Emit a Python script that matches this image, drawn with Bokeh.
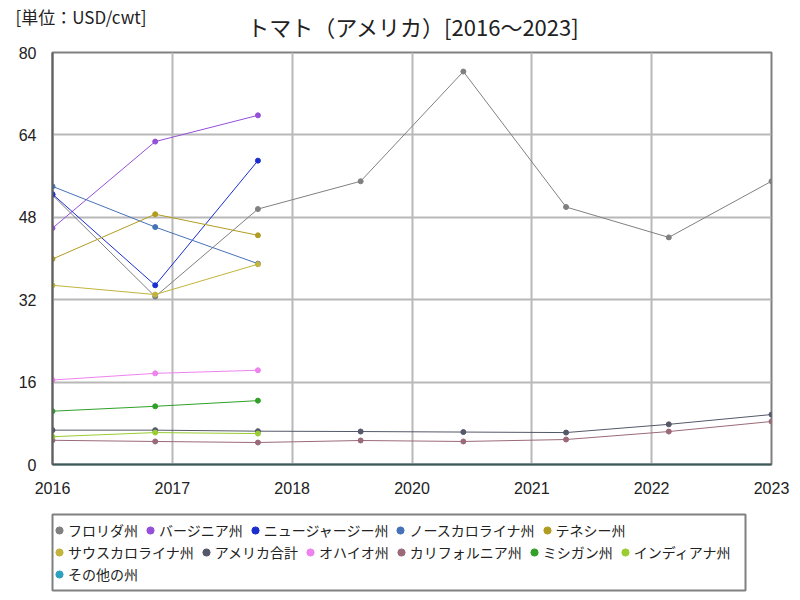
from bokeh.plotting import figure
from bokeh.layouts import column
from bokeh.models import (Range1d, FixedTicker, CustomJSTickFormatter, Legend, LegendItem,
                          Label, ColumnDataSource)
from bokeh.embed import file_html
from bokeh.resources import INLINE

years = [2016, 2017, 2018, 2019, 2020, 2021, 2022, 2023]

series_names = ["フロリダ州", "バージニア州", "ニュージャージー州", "ノースカロライナ州", "テネシー州",
                "サウスカロライナ州", "アメリカ合計", "オハイオ州", "カリフォルニア州", "ミシガン州",
                "インディアナ州", "その他の州"]

florida = [52.3, 32.6, 49.6, 55.0, 76.3, 50.0, 44.1, 55.0]
virginia = [45.9, 62.7, 67.8, None, None, None, None, None]
new_jersey = [52.5, 34.8, 59.0, None, None, None, None, None]
north_carolina = [54.0, 46.1, 39.0, None, None, None, None, None]
tennessee = [39.9, 48.6, 44.5, None, None, None, None, None]
south_carolina = [34.8, 33.0, 38.9, None, None, None, None, None]
us_total = [6.67, 6.67, 6.47, 6.4, 6.3, 6.2, 7.8, 9.7]
ohio = [16.4, 17.7, 18.3, None, None, None, None, None]
california = [4.7, 4.47, 4.27, 4.66, 4.47, 4.85, 6.4, 8.35]
michigan = [10.35, 11.3, 12.4, None, None, None, None, None]
indiana = [5.4, 6.2, 6.0, None, None, None, None, None]
others = [None, None, None, None, None, None, None, None]

all_values = [florida, virginia, new_jersey, north_carolina, tennessee, south_carolina,
              us_total, ohio, california, michigan, indiana, others]

colors = ["#808080", "#9450d8", "#1a2ed0", "#4672b8", "#b09c20", "#c2b43c",
          "#545868", "#ee82ee", "#9a6a78", "#30a028", "#9acd32", "#30a0c0"]

y_ticks = [0, 16, 32, 48, 64, 80]

title_text = "トマト（アメリカ）[2016～2023]"
unit_text = "[単位：USD/cwt]"

num_font = "Liberation Sans"
jp_font = "Noto Sans CJK JP"
W = 800

# ---- header (title + unit) ----
head = figure(width=W, height=42, output_backend="svg", toolbar_location=None,
              x_range=Range1d(0, W), y_range=Range1d(0, 42),
              x_axis_location=None, y_axis_location=None,
              min_border=0, min_border_left=0, min_border_right=0,
              min_border_top=0, min_border_bottom=0, frame_align=False)
head.grid.visible = False
head.outline_line_color = None
head.add_layout(Label(x=413, y=17, text=title_text, text_align="center",
                      text_baseline="middle", text_font=jp_font, text_font_size="22px",
                      text_color="#222222"))
head.add_layout(Label(x=15, y=26, text=unit_text, text_align="left",
                      text_baseline="middle", text_font=jp_font, text_font_size="17px",
                      text_color="#222222"))

# ---- main chart ----
p = figure(width=W, height=466, output_backend="svg", toolbar_location=None,
           x_range=Range1d(2016, 2023), y_range=Range1d(0, 80),
           min_border_left=52, min_border_right=29, min_border_top=10, min_border_bottom=44,
           frame_align=False)

p.outline_line_color = "#808080"
p.outline_line_width = 2

p.xaxis.ticker = FixedTicker(ticks=[2016 + 7 * k / 6 for k in range(7)])
p.xaxis.formatter = CustomJSTickFormatter(code="return Math.round(tick).toFixed(0);")
p.yaxis.ticker = FixedTicker(ticks=y_ticks)
for ax in (p.xaxis, p.yaxis):
    ax.major_tick_line_color = None
    ax.minor_tick_line_color = None
    ax.major_label_text_font = num_font
    ax.major_label_text_font_size = "16px"
    ax.major_label_text_color = "#222222"
p.xaxis.axis_line_color = "#3c5a5a"
p.xaxis.axis_line_width = 2
p.yaxis.axis_line_color = "#606060"
p.yaxis.axis_line_width = 2
p.xaxis.major_label_standoff = 11
p.yaxis.major_label_standoff = 10

p.xgrid.grid_line_color = "#b8b8b8"
p.ygrid.grid_line_color = "#b8b8b8"
p.xgrid.grid_line_width = 2
p.ygrid.grid_line_width = 2

for name, vals, col in zip(series_names, all_values, colors):
    xs = [y for y, v in zip(years, vals) if v is not None]
    ys = [v for v in vals if v is not None]
    src = ColumnDataSource(data=dict(x=xs, y=ys))
    if len(xs) > 1:
        p.line("x", "y", source=src, line_color=col, line_width=1)
    p.scatter("x", "y", source=src, size=5, fill_color=col, line_color=col)

# ---- legend box ----
lf = figure(width=W, height=92, output_backend="svg", toolbar_location=None,
            x_range=Range1d(0, 1), y_range=Range1d(0, 1),
            x_axis_location=None, y_axis_location=None,
            min_border_left=52, min_border_right=55, min_border_top=6, min_border_bottom=10,
            frame_align=False)
lf.grid.visible = False
lf.outline_line_color = "#808080"
lf.outline_line_width = 2

dummies = []
for col in colors:
    dummies.append(lf.scatter(x=[-10], y=[-10], size=8, fill_color=col, line_color=col))

rows = [range(0, 5), range(5, 11), range(11, 12)]
row_y = [50, 28, 6]
for rr, yy in zip(rows, row_y):
    items = [LegendItem(label=series_names[i], renderers=[dummies[i]]) for i in rr]
    lg = Legend(items=items, location=(-2, yy), orientation="horizontal",
                label_text_font=jp_font, label_text_font_size="14px",
                label_text_color="#222222",
                glyph_width=18, glyph_height=18, label_standoff=0, spacing=3,
                padding=2, margin=0, label_height=16,
                border_line_color=None, background_fill_alpha=0)
    lf.add_layout(lg, "center")

layout = column(head, p, lf, spacing=0)
open("out.html", "w").write(file_html(layout, INLINE))
